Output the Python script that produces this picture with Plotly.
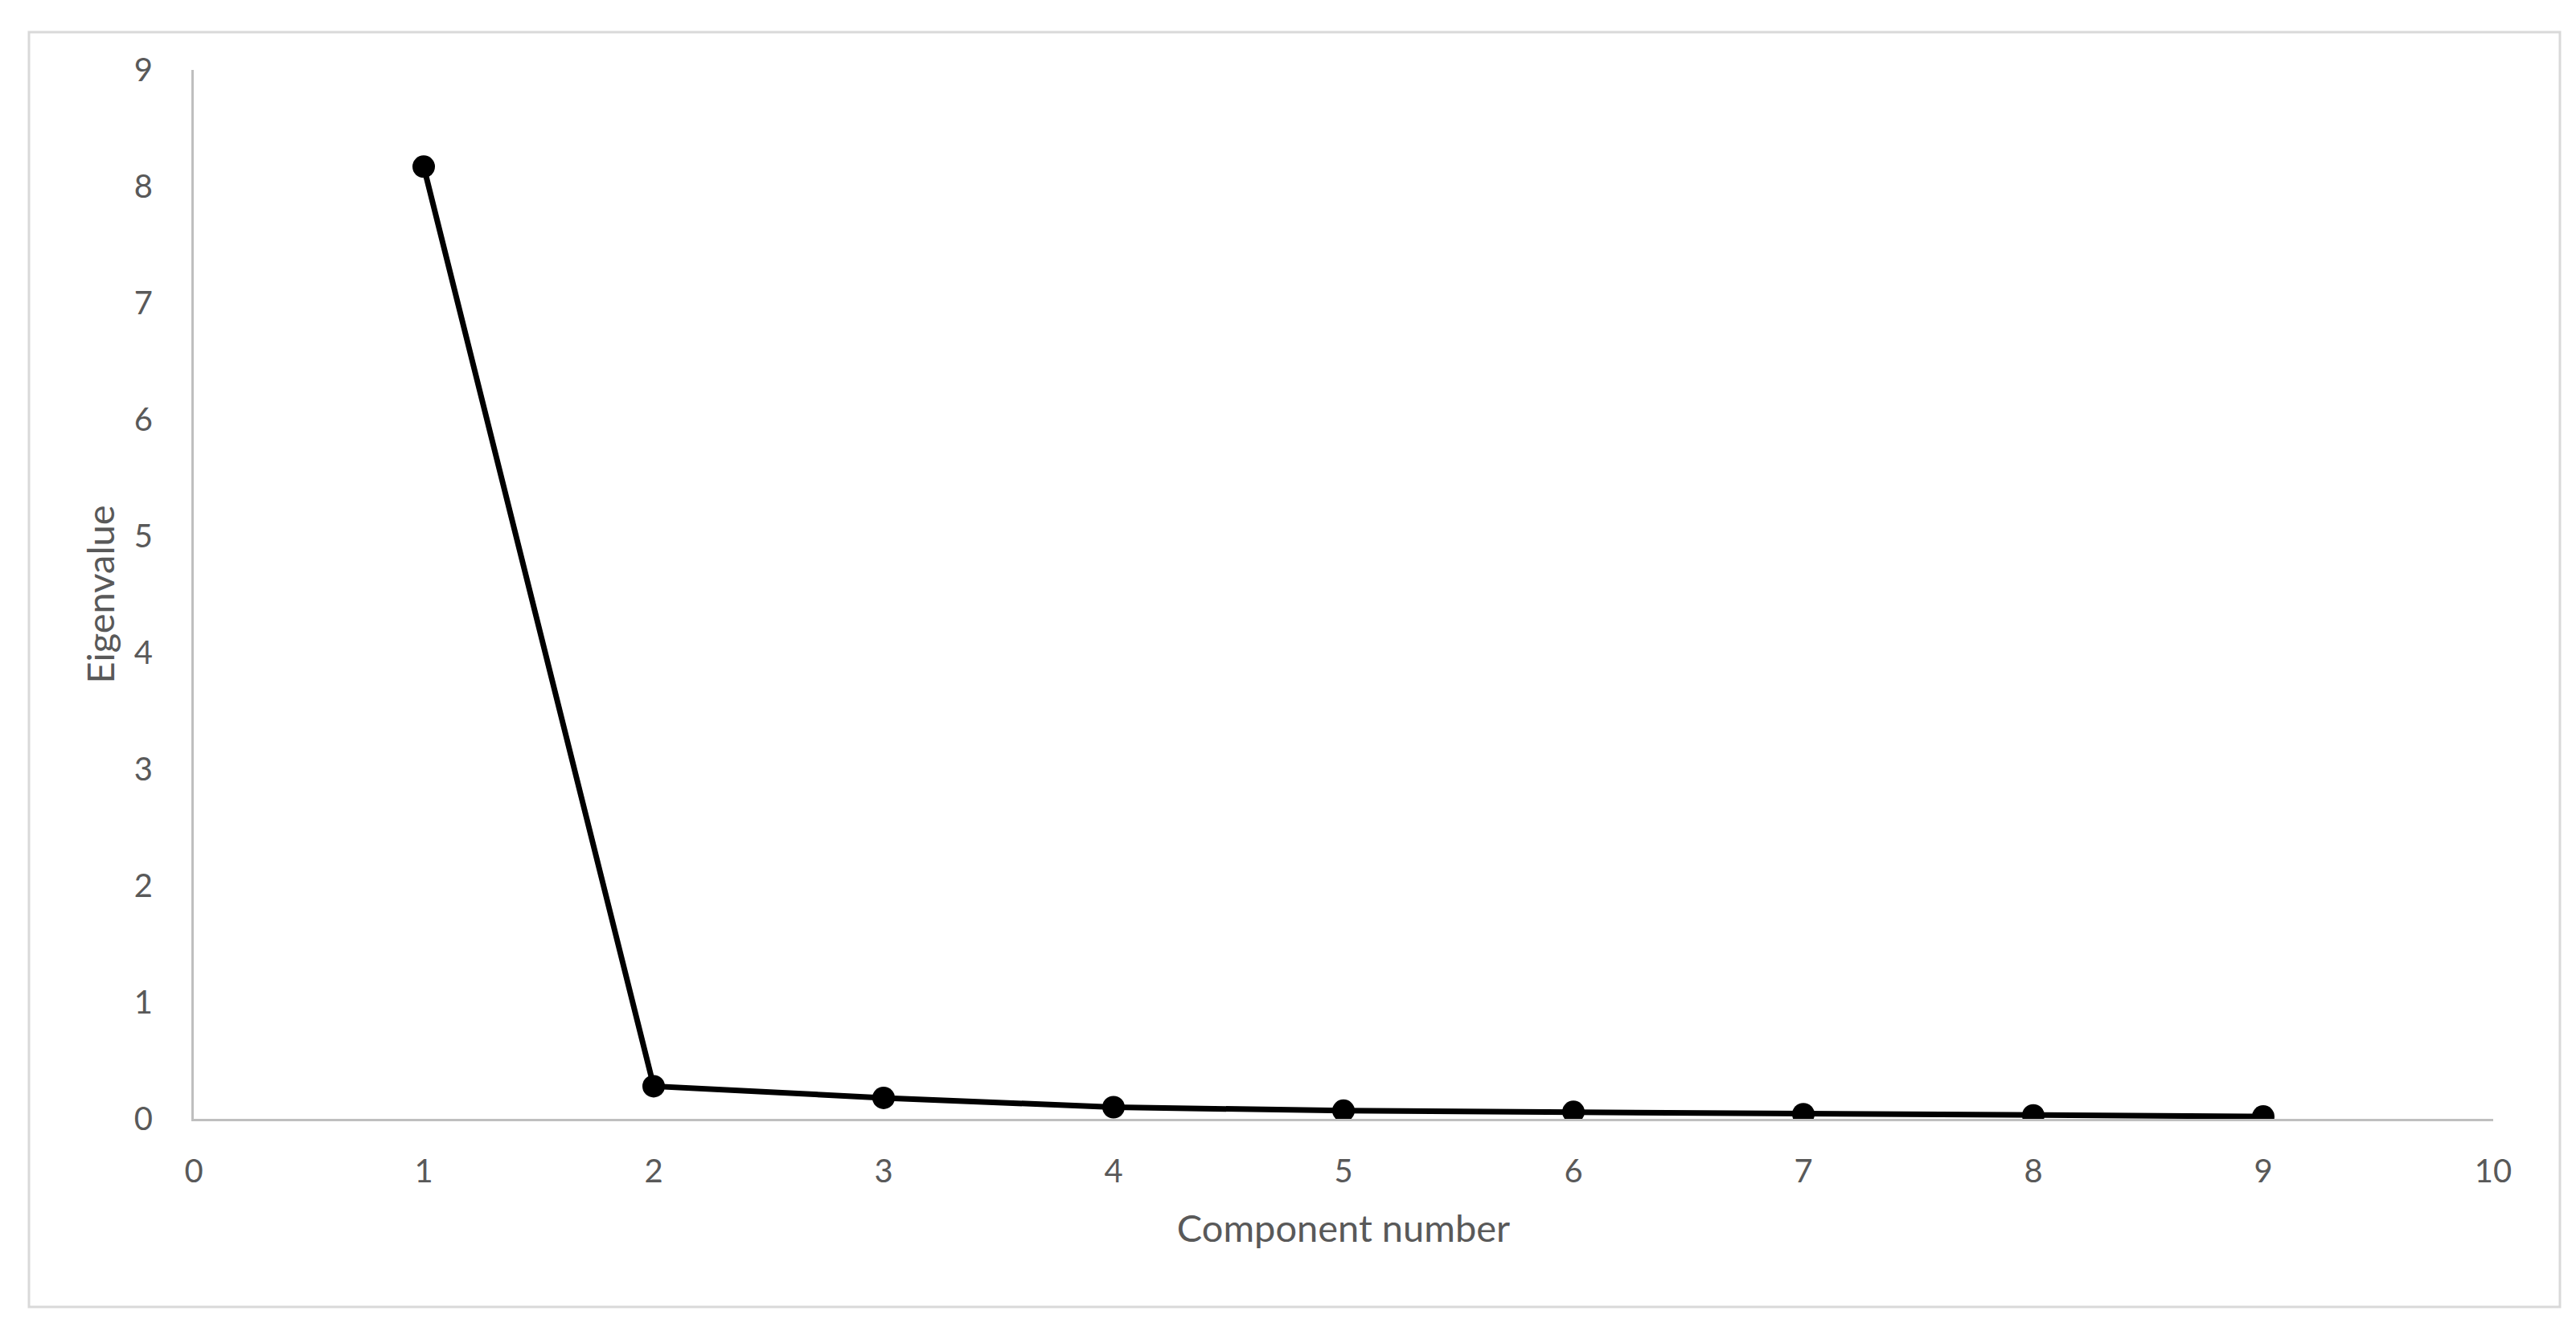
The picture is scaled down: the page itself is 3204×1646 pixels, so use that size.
import plotly.graph_objects as go

# Data
components = [1, 2, 3, 4, 5, 6, 7, 8, 9]
eigenvalues = [8.17, 0.28, 0.18, 0.10, 0.07, 0.06, 0.04, 0.03, 0.02]
x_ticks = [0, 1, 2, 3, 4, 5, 6, 7, 8, 9, 10]
y_ticks = [0, 1, 2, 3, 4, 5, 6, 7, 8, 9]

W, H = 3204, 1646
L, R, T, B = 233, 111, 79, 262
FONT = "Lato"
TXT = "#595959"

fig = go.Figure()
fig.add_trace(go.Scatter(
    x=components, y=eigenvalues, mode="lines+markers",
    line=dict(color="black", width=7),
    marker=dict(color="black", size=28),
    showlegend=False, hoverinfo="x+y",
))

pw = W - L - R
ph = H - T - B
def px(xp):
    return (xp - L) / pw
def py(yp):
    return (H - B - yp) / ph

fig.update_layout(
    width=W, height=H,
    margin=dict(l=L, r=R, t=T, b=B, pad=0),
    paper_bgcolor="white", plot_bgcolor="white",
    font=dict(family=FONT, color=TXT, size=40),
    xaxis=dict(
        range=[0, 10], tickvals=x_ticks, ticktext=[str(v) for v in x_ticks],
        showgrid=False, zeroline=False, showline=True,
        linecolor="#bfbfbf", linewidth=3, ticks="",
        tickfont=dict(family=FONT, size=40, color=TXT),
        ticklabelstandoff=28,
        title=dict(text="Component number", font=dict(family=FONT, size=47, color=TXT), standoff=34),
    ),
    yaxis=dict(
        range=[0, 9], tickvals=y_ticks, ticktext=[str(v) for v in y_ticks],
        showgrid=False, zeroline=False, showline=True,
        linecolor="#bfbfbf", linewidth=3, ticks="",
        tickfont=dict(family=FONT, size=40, color=TXT),
        ticklabelstandoff=40,
        title=dict(text="Eigenvalue", font=dict(family=FONT, size=47, color=TXT), standoff=10),
    ),
    shapes=[dict(
        type="rect", xref="paper", yref="paper",
        x0=px(28), x1=px(3176), y0=py(1618), y1=py(32),
        line=dict(color="#d9d9d9", width=3), fillcolor="rgba(0,0,0,0)", layer="below",
    )],
)

fig.write_html("out.html")
